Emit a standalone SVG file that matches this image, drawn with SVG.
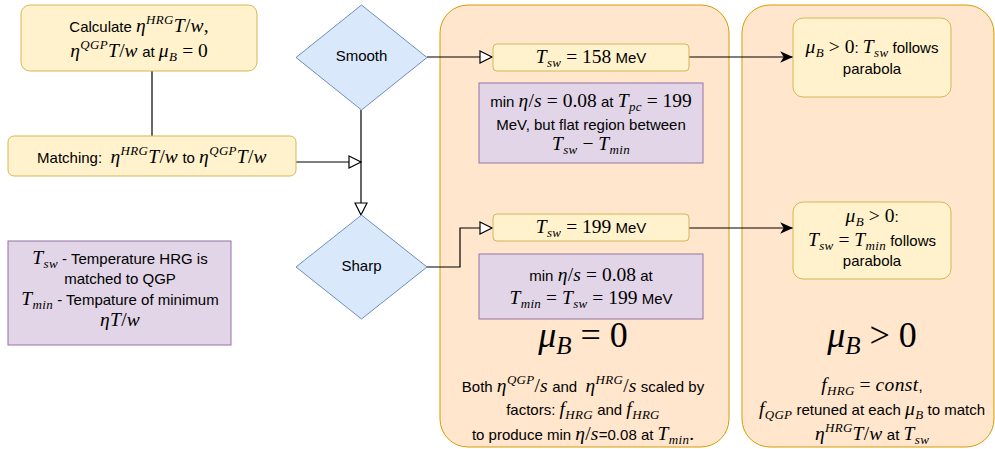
<svg xmlns="http://www.w3.org/2000/svg" width="995" height="449" viewBox="0 0 995 449">
<style>
.t{font-family:"Liberation Sans",Arial,sans-serif;font-size:15px;fill:#000;text-anchor:middle}
.m{font-family:"Liberation Serif","Times New Roman",serif;font-style:italic;font-size:19.5px;letter-spacing:0.4px}
.r{font-family:"Liberation Serif","Times New Roman",serif;font-style:normal;font-size:19.5px}
.sb{font-family:"Liberation Serif","Times New Roman",serif;font-style:italic;font-size:13px;baseline-shift:-3.5px;letter-spacing:0.3px}
.sp{font-family:"Liberation Serif","Times New Roman",serif;font-style:italic;font-size:13px;baseline-shift:8px;letter-spacing:0.3px}
.bm{font-family:"Liberation Serif","Times New Roman",serif;font-style:italic;font-size:36px}
.br{font-family:"Liberation Serif","Times New Roman",serif;font-style:normal;font-size:36px}
.bsb{font-family:"Liberation Serif","Times New Roman",serif;font-style:italic;font-size:25px;baseline-shift:-7px}
.y{fill:#fff2cc;stroke:#d6b656;stroke-width:1}
.p{fill:#e1d5e7;stroke:#9673a6;stroke-width:1}
.o{fill:#ffe6cc;stroke:#d79b00;stroke-width:1}
.d{fill:#dae8fc;stroke:#6c8ebf;stroke-width:1}
.e{fill:none;stroke:#000;stroke-width:1.2}
</style>
<defs>
<marker id="open" markerUnits="userSpaceOnUse" markerWidth="16" markerHeight="16" viewBox="-2 -2 16 16" refX="12" refY="6" orient="auto">
<path d="M0,0 L12,6 L0,12 Z" fill="#fff" stroke="#000" stroke-width="1.2"/>
</marker>
<marker id="fill" markerUnits="userSpaceOnUse" markerWidth="14" markerHeight="12" viewBox="0 0 12 10" refX="11" refY="5" orient="auto">
<path d="M0,0 L11,5 L0,10 L3,5 Z" fill="#000"/>
</marker>
</defs>

<g id="container-mu0">
<rect class="o" x="440" y="5" width="289" height="442" rx="28"/>
<text class="t" x="583" y="347"><tspan class="bm">μ</tspan><tspan class="bsb">B</tspan><tspan class="br"> = 0</tspan></text>
<text class="t" x="583" y="392">Both <tspan class="m">η</tspan><tspan class="sp">QGP</tspan><tspan class="r">/</tspan><tspan class="m">s</tspan> and&#160; <tspan class="m">η</tspan><tspan class="sp">HRG</tspan><tspan class="r">/</tspan><tspan class="m">s</tspan> scaled by</text>
<text class="t" x="583" y="415">factors: <tspan class="m">f</tspan><tspan class="sb">HRG</tspan> and <tspan class="m">f</tspan><tspan class="sb">HRG</tspan></text>
<text class="t" x="583" y="440">to produce min <tspan class="m">η</tspan><tspan class="r">/</tspan><tspan class="m">s</tspan>=0.08 at <tspan class="m">T</tspan><tspan class="sb">min</tspan><tspan class="r">.</tspan></text>
</g>

<g id="container-mugt0">
<rect class="o" x="742" y="5" width="252" height="442" rx="28"/>
<text class="t" x="872" y="347"><tspan class="bm">μ</tspan><tspan class="bsb">B</tspan><tspan class="br"> &gt; 0</tspan></text>
<text class="t" x="872" y="391"><tspan class="m">f</tspan><tspan class="sb">HRG</tspan><tspan class="r"> = </tspan><tspan class="m">const</tspan>,</text>
<text class="t" x="872" y="415"><tspan class="m">f</tspan><tspan class="sb">QGP</tspan> retuned at each <tspan class="m">μ</tspan><tspan class="sb">B</tspan> to match</text>
<text class="t" x="872" y="440"><tspan class="m">η</tspan><tspan class="sp">HRG</tspan><tspan class="m">T</tspan><tspan class="r">/</tspan><tspan class="m">w</tspan> at <tspan class="m">T</tspan><tspan class="sb">sw</tspan></text>
</g>

<g id="connectors">
<path class="e" d="M152,71 V136"/>
<path class="e" d="M296,162 H361" marker-end="url(#open)"/>
<path class="e" d="M361,110 V215" marker-end="url(#open)"/>
<path class="e" d="M427,57 H492" marker-end="url(#open)"/>
<path class="e" d="M427,267 H460 V228 H492" marker-end="url(#open)"/>
<path class="e" d="M689,57 H793" marker-end="url(#fill)"/>
<path class="e" d="M689,228 H793" marker-end="url(#fill)"/>
</g>

<g id="calculate">
<rect class="y" x="21" y="5" width="236" height="66" rx="9"/>
<text class="t" x="139" y="32">Calculate <tspan class="m">η</tspan><tspan class="sp">HRG</tspan><tspan class="m">T</tspan><tspan class="r">/</tspan><tspan class="m">w</tspan><tspan class="r">,</tspan></text>
<text class="t" x="139" y="57"><tspan class="m">η</tspan><tspan class="sp">QGP</tspan><tspan class="m">T</tspan><tspan class="r">/</tspan><tspan class="m">w</tspan> at <tspan class="m">μ</tspan><tspan class="sb">B</tspan><tspan class="r"> = 0</tspan></text>
</g>

<g id="matching">
<rect class="y" x="8" y="136" width="288" height="40" rx="6"/>
<text class="t" x="152" y="163">Matching:&#160; <tspan class="m">η</tspan><tspan class="sp">HRG</tspan><tspan class="m">T</tspan><tspan class="r">/</tspan><tspan class="m">w</tspan> to <tspan class="m">η</tspan><tspan class="sp">QGP</tspan><tspan class="m">T</tspan><tspan class="r">/</tspan><tspan class="m">w</tspan></text>
</g>

<g id="smooth">
<path class="d" d="M361.5,5 L427,57.5 L361.5,110 L296,57.5 Z"/>
<text class="t" x="361.5" y="61">Smooth</text>
</g>

<g id="sharp">
<path class="d" d="M361.5,215 L427,267 L361.5,319 L296,267 Z"/>
<text class="t" x="361.5" y="271">Sharp</text>
</g>

<g id="tsw158">
<rect class="y" x="493" y="44" width="196" height="27" rx="4"/>
<text class="t" x="591" y="63"><tspan class="m">T</tspan><tspan class="sb">sw</tspan><tspan class="r"> = 158</tspan> MeV</text>
</g>

<g id="note-smooth">
<rect class="p" x="479" y="83" width="224" height="80"/>
<text class="t" x="591" y="107">min <tspan class="m">η</tspan><tspan class="r">/</tspan><tspan class="m">s</tspan><tspan class="r"> = 0.08</tspan> at <tspan class="m">T</tspan><tspan class="sb">pc</tspan><tspan class="r"> = 199</tspan></text>
<text class="t" x="591" y="130">MeV, but flat region between</text>
<text class="t" x="591" y="150"><tspan class="m">T</tspan><tspan class="sb">sw</tspan><tspan class="r"> − </tspan><tspan class="m">T</tspan><tspan class="sb">min</tspan></text>
</g>

<g id="tsw199">
<rect class="y" x="493" y="214" width="196" height="27" rx="4"/>
<text class="t" x="591" y="233"><tspan class="m">T</tspan><tspan class="sb">sw</tspan><tspan class="r"> = 199</tspan> MeV</text>
</g>

<g id="note-sharp">
<rect class="p" x="479" y="254" width="224" height="65"/>
<text class="t" x="591" y="281">min <tspan class="m">η</tspan><tspan class="r">/</tspan><tspan class="m">s</tspan><tspan class="r"> = 0.08</tspan> at</text>
<text class="t" x="591" y="304"><tspan class="m">T</tspan><tspan class="sb">min</tspan><tspan class="r"> = </tspan><tspan class="m">T</tspan><tspan class="sb">sw</tspan><tspan class="r"> = 199</tspan> MeV</text>
</g>

<g id="parabola-smooth">
<rect class="y" x="793" y="18" width="158" height="79" rx="10"/>
<text class="t" x="872" y="53"><tspan class="m">μ</tspan><tspan class="sb">B</tspan><tspan class="r"> &gt; 0</tspan>: <tspan class="m">T</tspan><tspan class="sb">sw</tspan> follows</text>
<text class="t" x="872" y="74">parabola</text>
</g>

<g id="parabola-sharp">
<rect class="y" x="793" y="202" width="158" height="77" rx="10"/>
<text class="t" x="872" y="222"><tspan class="m">μ</tspan><tspan class="sb">B</tspan><tspan class="r"> &gt; 0</tspan>:</text>
<text class="t" x="872" y="246"><tspan class="m">T</tspan><tspan class="sb">sw</tspan><tspan class="r"> = </tspan><tspan class="m">T</tspan><tspan class="sb">min</tspan> follows</text>
<text class="t" x="872" y="266">parabola</text>
</g>

<g id="legend">
<rect class="p" x="8" y="241" width="223" height="104"/>
<text class="t" x="120" y="264"><tspan class="m">T</tspan><tspan class="sb">sw</tspan> - Temperature HRG is</text>
<text class="t" x="120" y="284">matched to QGP</text>
<text class="t" x="120" y="305"><tspan class="m">T</tspan><tspan class="sb">min</tspan> - Tempature of minimum</text>
<text class="t" x="120" y="326"><tspan class="m">η</tspan><tspan class="m">T</tspan><tspan class="r">/</tspan><tspan class="m">w</tspan></text>
</g>
</svg>
